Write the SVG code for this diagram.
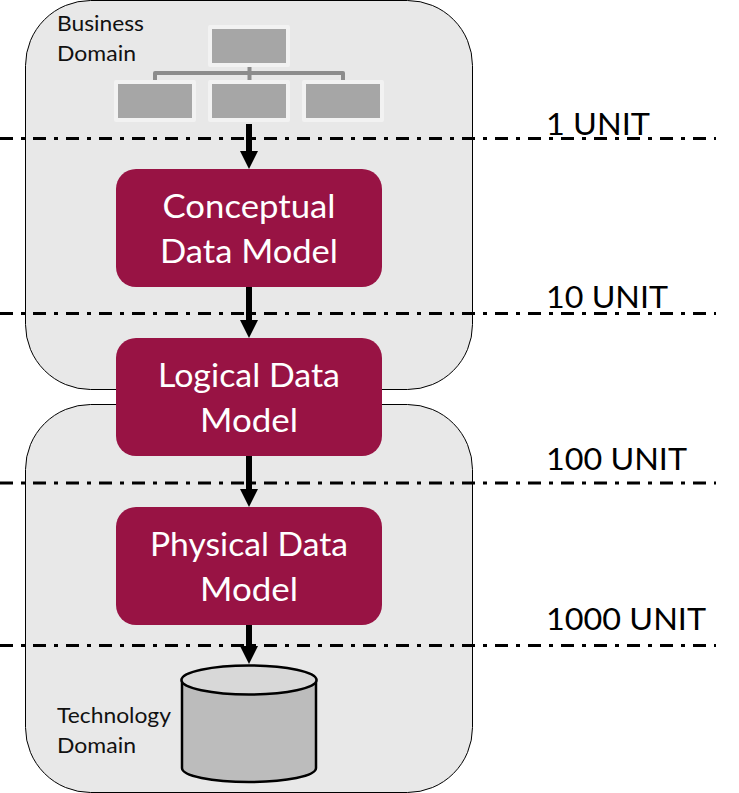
<svg xmlns="http://www.w3.org/2000/svg" width="739" height="793" viewBox="0 0 739 793">
  <style>
    text { font-family: "Lato", "Open Sans", "Liberation Sans", sans-serif; }
    .domain { fill: #e8e8e8; stroke: #000; stroke-width: 1; }
    .step { fill: #981344; }
    .step-label { fill: #fff; font-size: 33px; text-anchor: middle; }
    .caption { fill: #111; font-size: 21px; }
    .cost { fill: #000; font-size: 31px; }
    .level { fill: none; stroke: #000; stroke-width: 3; stroke-dasharray: 13 8 4 8; }
    .flow { fill: none; stroke: #000; stroke-width: 6; }
    .org-box { fill: #a6a6a6; stroke: #f2f2f2; stroke-width: 4; stroke-linejoin: round; }
    .org-link { fill: none; stroke: #8c8c8c; stroke-width: 4; stroke-linejoin: round; }
  </style>
  <defs>
    <marker id="head" markerUnits="userSpaceOnUse" markerWidth="18" markerHeight="18" refX="0" refY="9" orient="auto">
      <path d="M0 0L18 9L0 18Z" fill="#000"/>
    </marker>
  </defs>

  <g id="business-domain">
    <rect class="domain" x="25.5" y="0.5" width="447" height="389" rx="65" ry="65"/>
    <text class="caption" x="57" y="31" textLength="87" lengthAdjust="spacingAndGlyphs">Business</text>
    <text class="caption" x="57" y="61" textLength="79" lengthAdjust="spacingAndGlyphs">Domain</text>
  </g>

  <g id="technology-domain">
    <rect class="domain" x="25.5" y="404.5" width="447" height="388" rx="65" ry="65"/>
    <text class="caption" x="57" y="723" textLength="114" lengthAdjust="spacingAndGlyphs">Technology</text>
    <text class="caption" x="57" y="753" textLength="79" lengthAdjust="spacingAndGlyphs">Domain</text>
  </g>

  <g id="org-chart">
    <path class="org-link" d="M155 80V73H343V80M249.5 67V80"/>
    <rect class="org-box" x="210" y="27" width="78" height="38"/>
    <rect class="org-box" x="116" y="82" width="78" height="38"/>
    <rect class="org-box" x="210" y="82" width="78" height="38"/>
    <rect class="org-box" x="304" y="82" width="78" height="38"/>
  </g>

  <g id="connectors">
    <path class="level" d="M0 138.5H716"/>
    <path class="level" d="M0 313.5H716"/>
    <path class="level" d="M0 483H716"/>
    <path class="level" d="M0 645.5H716"/>
    <path class="flow" d="M249 124V151" marker-end="url(#head)"/>
    <path class="flow" d="M249 287V320" marker-end="url(#head)"/>
    <path class="flow" d="M249 456V489" marker-end="url(#head)"/>
    <path class="flow" d="M249 625V646" marker-end="url(#head)"/>
  </g>

  <g id="conceptual-model">
    <rect class="step" x="116" y="169" width="266" height="118" rx="20" ry="20"/>
    <text class="step-label" x="249" y="218" textLength="173" lengthAdjust="spacingAndGlyphs">Conceptual</text>
    <text class="step-label" x="249" y="263" textLength="178" lengthAdjust="spacingAndGlyphs">Data Model</text>
  </g>

  <g id="logical-model">
    <rect class="step" x="116" y="338" width="266" height="118" rx="20" ry="20"/>
    <text class="step-label" x="249" y="387" textLength="182" lengthAdjust="spacingAndGlyphs">Logical Data</text>
    <text class="step-label" x="249" y="432" textLength="98" lengthAdjust="spacingAndGlyphs">Model</text>
  </g>

  <g id="physical-model">
    <rect class="step" x="116" y="507" width="266" height="118" rx="20" ry="20"/>
    <text class="step-label" x="249" y="556" textLength="198" lengthAdjust="spacingAndGlyphs">Physical Data</text>
    <text class="step-label" x="249" y="601" textLength="98" lengthAdjust="spacingAndGlyphs">Model</text>
  </g>

  <g id="database">
    <path d="M182 680V768C182 776 212 782 249 782S316 776 316 768V680Z" fill="#bcbcbc" stroke="#000" stroke-width="2.5"/>
    <ellipse cx="249" cy="680" rx="67.5" ry="14.5" fill="#d8d8d8" stroke="#000" stroke-width="2.5"/>
  </g>

  <g id="cost-labels">
    <text class="cost" x="546" y="135" textLength="104" lengthAdjust="spacingAndGlyphs">1 UNIT</text>
    <text class="cost" x="546" y="308" textLength="122" lengthAdjust="spacingAndGlyphs">10 UNIT</text>
    <text class="cost" x="546" y="470" textLength="141" lengthAdjust="spacingAndGlyphs">100 UNIT</text>
    <text class="cost" x="546" y="630" textLength="160" lengthAdjust="spacingAndGlyphs">1000 UNIT</text>
  </g>
</svg>
